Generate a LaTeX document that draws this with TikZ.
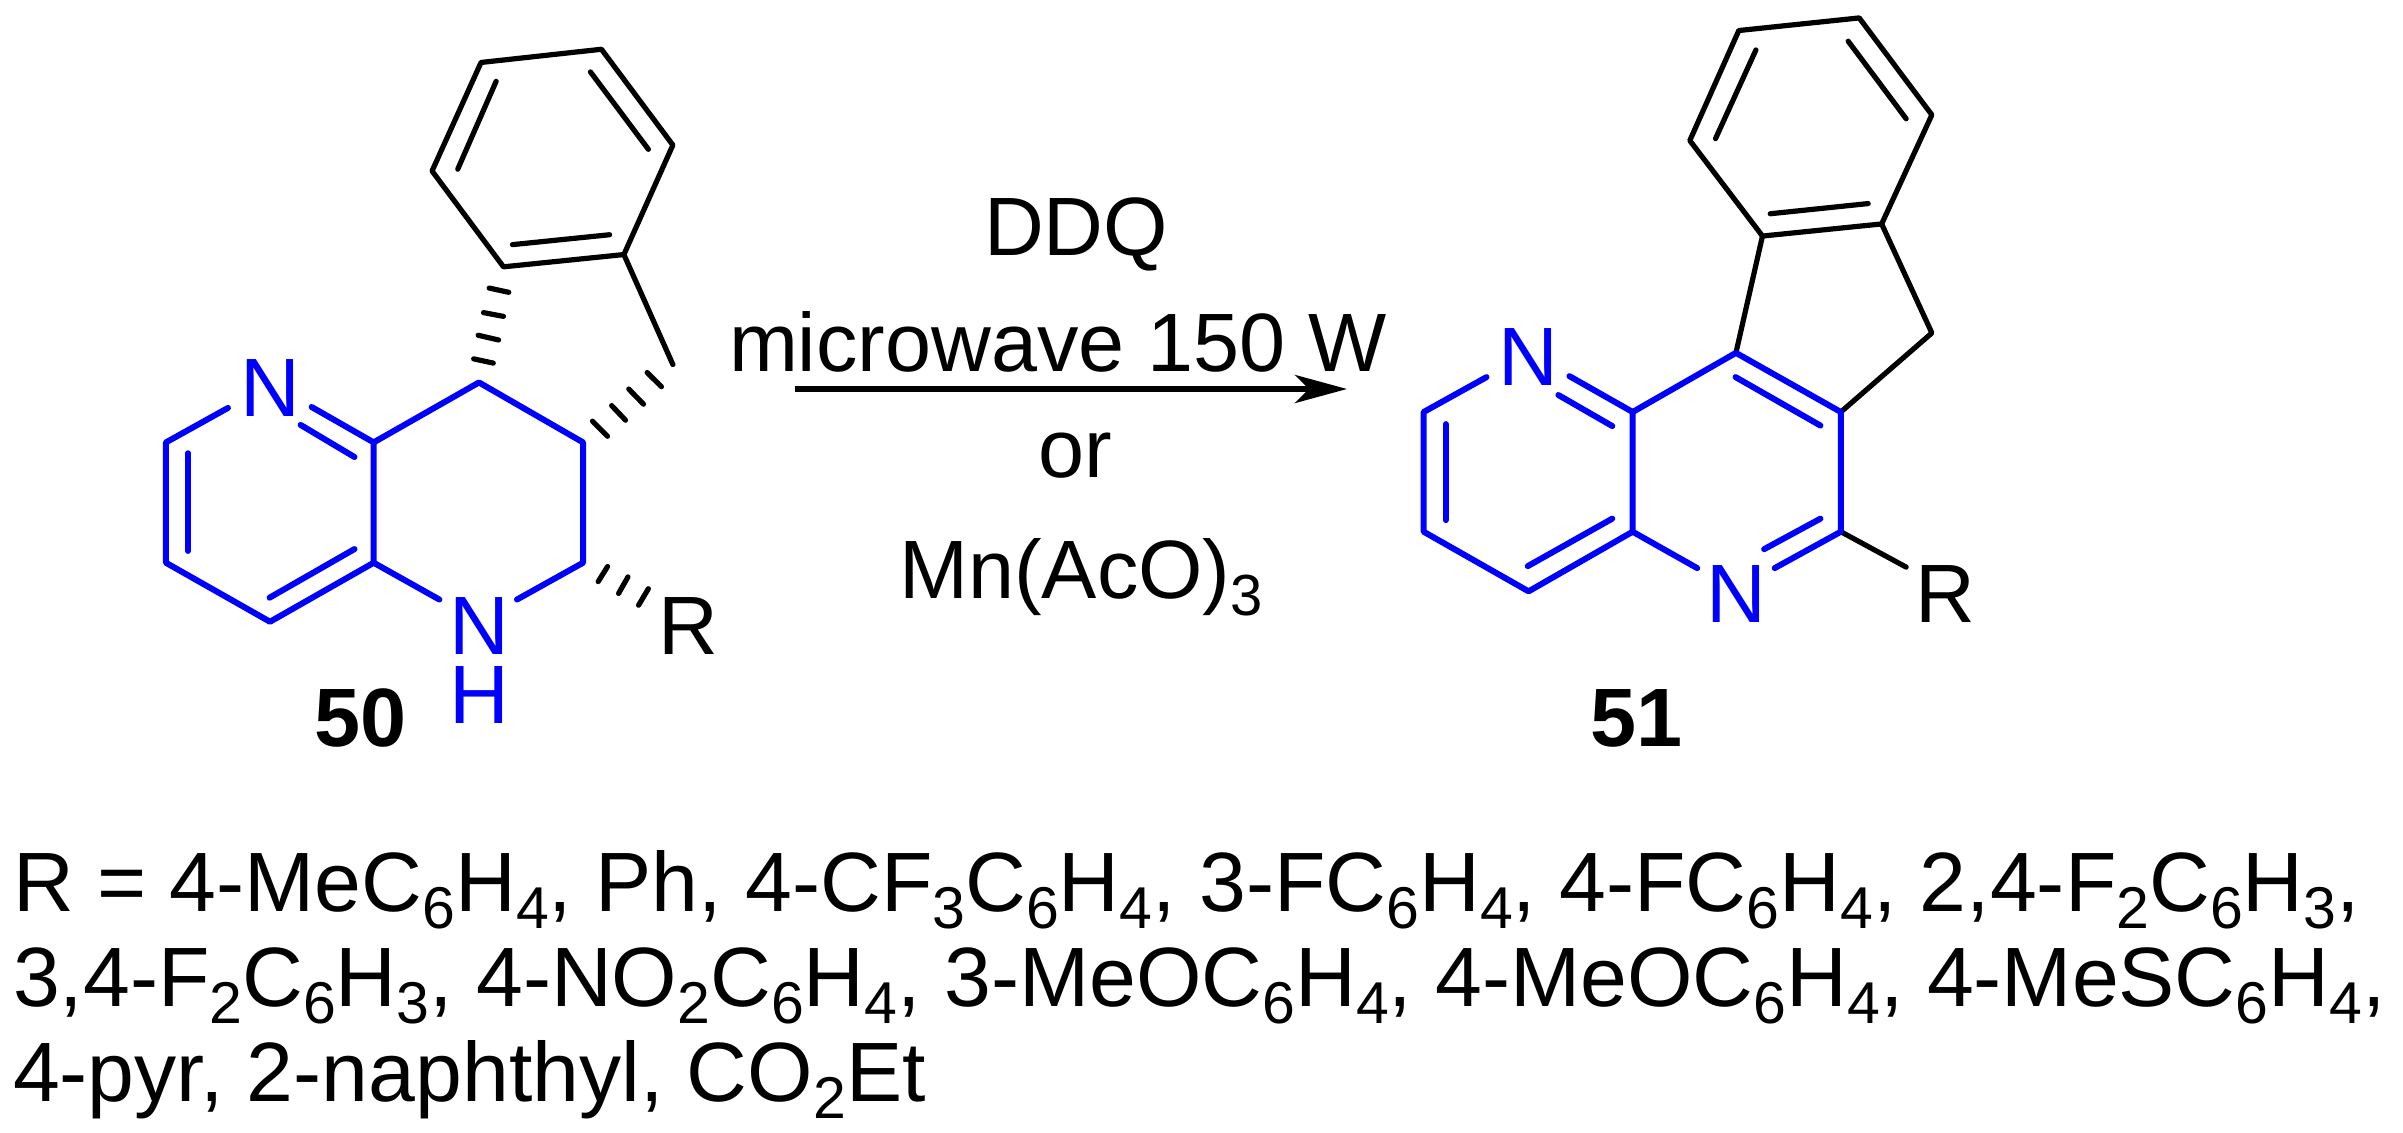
\documentclass[tikz,border=0pt]{standalone}
\usepackage{fontspec}
\setmainfont{Liberation Sans}
\usetikzlibrary{arrows.meta}
\definecolor{chemblue}{RGB}{0,0,255}
\newcommand\sbs[1]{\raisebox{-8.6pt}{\fontsize{29}{29}\selectfont #1}}
\newcommand\sbl[1]{\raisebox{-8.6pt}{\fontsize{29.5}{30}\selectfont #1}}
\tikzset{
  txt/.style={inner sep=0pt,outer sep=0pt,anchor=base,font=\fontsize{41.4}{42}\selectfont},
  txtl/.style={txt,anchor=base west,font=\fontsize{42.1}{43}\selectfont},
  num/.style={txt,font=\fontsize{41.4}{42}\selectfont\bfseries},
  atom/.style={txt,text=chemblue},
  bk/.style={draw=black,line width=2.6pt,line join=round,line cap=round},
  bl/.style={draw=chemblue,line width=3pt,line join=round,line cap=round},
  hb/.style={draw=black,line width=2.6pt,line cap=round},
  molA/.style={x=0.20408pt,y=-0.23597pt},
  molB/.style={x=0.20408pt,y=-0.24235pt}
}
\begin{document}
\begin{tikzpicture}[x=0.5pt,y=-0.5pt]
\useasboundingbox (0,0) rectangle (2403,1133);
\fill[white] (0,0) rectangle (2403,1133);
% ---- compound 50
\begin{scope}[shift={(130,20)},molA]
\coordinate (b1) at (860,90); \coordinate (b2) at (1155,62); \coordinate (b3) at (1330,265);
\coordinate (b4) at (1210,497); \coordinate (b5) at (915,523); \coordinate (b6) at (740,320);
\coordinate (i1) at (897,130); \coordinate (i2) at (803,316);
\coordinate (i3) at (1128,110); \coordinate (i4) at (1270,274);
\coordinate (i5) at (1175,455); \coordinate (i6) at (937,476);
\coordinate (ch2) at (1330,730);
\draw[bk] (b1)--(b2)--(b3)--(b4)--(b5)--(b6)--cycle;
\draw[bk] (i1)--(i2); \draw[bk] (i3)--(i4); \draw[bk] (i5)--(i6);
\draw[bk] (b4)--(ch2);
\draw[hb] (880,568)--(928,577); \draw[hb] (866,620)--(915,628);
\draw[hb] (853,668)--(903,678); \draw[hb] (842,718)--(890,727);
\draw[hb] (1133,850)--(1170,882); \draw[hb] (1180,817)--(1214,848);
\draw[hb] (1222,782)--(1258,814); \draw[hb] (1267,747)--(1302,777);
\draw[hb] (1170,1158)--(1147,1190); \draw[hb] (1220,1180)--(1197,1215); \draw[hb] (1270,1205)--(1246,1240);
\node[atom] (nA) at (345,840) {N};
\node[atom] (nB) at (855,1345) {N};
\node[atom] (hB) at (855,1490) {H};
\node[txt] (rA) at (1368,1345) {R};
\node[num] (lA) at (565,1540) {50};
\coordinate (a) at (88,895); \coordinate (b) at (597,895); \coordinate (c) at (597,1150);
\coordinate (d) at (343,1275); \coordinate (e) at (88,1150); \coordinate (f) at (1110,1150);
\coordinate (g) at (1110,895); \coordinate (h) at (855,768);
\coordinate (n1) at (240,822); \coordinate (n2) at (445,820);
\coordinate (n3) at (758,1228); \coordinate (n4) at (948,1228);
\draw[bl] (n1)--(a)--(e)--(d)--(c)--(b)--(n2);
\draw[bl] (n3)--(c); \draw[bl] (n4)--(f)--(g)--(h)--(b);
\draw[bl] (418,858)--(550,926); \draw[bl] (142,918)--(142,1125); \draw[bl] (342,1224)--(550,1121);
\end{scope}
% ---- compound 51
\begin{scope}[shift={(1400,0)},molB]
\coordinate (B1) at (830,63); \coordinate (B2) at (1125,37); \coordinate (B3) at (1303,237);
\coordinate (B4) at (1180,462); \coordinate (B5) at (888,487); \coordinate (B6) at (710,290);
\coordinate (P) at (1303,687);
\coordinate (A) at (58,850); \coordinate (Bb) at (570,850); \coordinate (C) at (570,1097);
\coordinate (D) at (315,1220); \coordinate (E) at (58,1097); \coordinate (F) at (1080,1097);
\coordinate (G) at (1080,850); \coordinate (H) at (823,728);
\coordinate (N1) at (212,778); \coordinate (N2) at (415,776);
\coordinate (N3) at (728,1172); \coordinate (N4) at (918,1172); \coordinate (RR) at (1240,1170);
\draw[bk] (B1)--(B2)--(B3)--(B4)--(B5)--(B6)--cycle;
\draw[bk] (872,103)--(773,286); \draw[bk] (1098,85)--(1240,245); \draw[bk] (1147,420)--(907,441);
\draw[bk] (B5)--(H); \draw[bk] (B4)--(P)--(G); \draw[bk] (F)--(RR);
\node[atom] (nC) at (315,795) {N};
\node[atom] (nD) at (825,1285) {N};
\node[txt] (rB) at (1335,1285) {R};
\node[num] (lB) at (580,1540) {51};
\draw[bl] (N1)--(A)--(E)--(D)--(C)--(Bb)--(N2);
\draw[bl] (N3)--(C); \draw[bl] (N4)--(F)--(G)--(H)--(Bb);
\draw[bl] (388,815)--(520,879); \draw[bl] (112,875)--(112,1073);
\draw[bl] (313,1168)--(520,1070); \draw[bl] (892,1133)--(1030,1070); \draw[bl] (822,778)--(1030,878);
\end{scope}
% ---- reaction arrow and conditions
\coordinate (arrS) at (795,389); \coordinate (arrE) at (1347,389);
\draw[line width=3pt,-{Stealth[length=26pt,width=14pt,inset=7pt]}] (arrS)--(arrE);
\node[txt] (t1) at (1076,256) {DDQ};
\node[txt] (t2) at (1058,372) {microwave 150 W};
\node[txt] (t3) at (1075,478) {or};
\node[txt] (t4) at (1081,598) {Mn(AcO)\sbs{3}};
% ---- substituent list
\node[txtl] (l1) at (13,911) {R = 4-MeC\sbl{6}H\sbl{4}, Ph, 4-CF\sbl{3}C\sbl{6}H\sbl{4}, 3-FC\sbl{6}H\sbl{4}, 4-FC\sbl{6}H\sbl{4}, 2,4-F\sbl{2}C\sbl{6}H\sbl{3},};
\node[txtl] (l2) at (13,1006) {3,4-F\sbl{2}C\sbl{6}H\sbl{3}, 4-NO\sbl{2}C\sbl{6}H\sbl{4}, 3-MeOC\sbl{6}H\sbl{4}, 4-MeOC\sbl{6}H\sbl{4}, 4-MeSC\sbl{6}H\sbl{4},};
\node[txtl] (l3) at (13,1101) {4-pyr, 2-naphthyl, CO\sbl{2}Et};
\end{tikzpicture}
\end{document}
